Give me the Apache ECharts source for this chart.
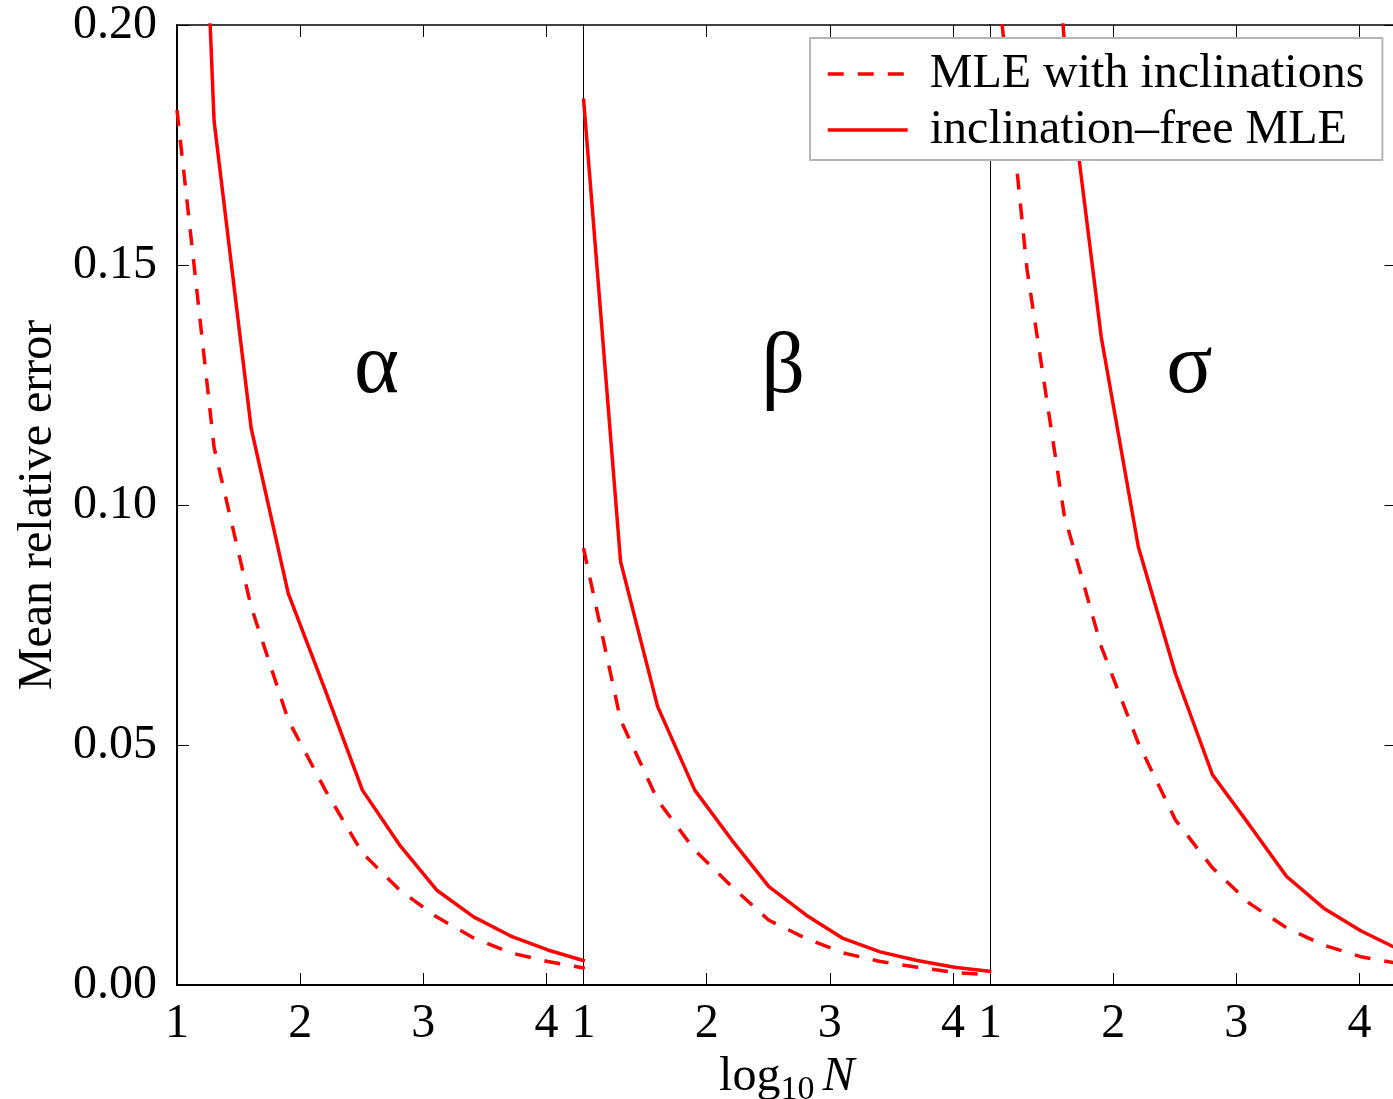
<!DOCTYPE html>
<html>
<head>
<meta charset="utf-8">
<script src="https://cdn.jsdelivr.net/npm/echarts@6/dist/echarts.min.js"></script>
<style>
  html, body { margin: 0; padding: 0; background: #fff; }
  #root { width: 1393px; height: 1099px; }
</style>
</head>
<body>
<div id="root"></div>
<script>
// log10 N for N = 10, 20, 40, ... 20480
const logN = [1, 1.301, 1.602, 1.903, 2.204, 2.505, 2.806, 3.107, 3.408, 3.709, 4.010, 4.311]

// mean relative error
const alphaIncl = [0.1823, 0.112, 0.0788, 0.0552, 0.0406, 0.0275, 0.0198, 0.0142, 0.0098, 0.0067, 0.0049, 0.0035]
const alphaFree = [0.37, 0.180, 0.116, 0.0816, 0.0614, 0.0406, 0.0292, 0.0198, 0.0142, 0.0102, 0.0073, 0.0050]
const betaIncl = [0.091, 0.0552, 0.0385, 0.0281, 0.0205, 0.0135, 0.0097, 0.0067, 0.0049, 0.0037, 0.0026, 0.0021]
const betaFree = [0.1847, 0.0882, 0.058, 0.0406, 0.0302, 0.0205, 0.0146, 0.0097, 0.0069, 0.0051, 0.0037, 0.0028]
const sigmaIncl = [0.225, 0.149, 0.098, 0.0705, 0.0504, 0.0344, 0.0244, 0.017, 0.0119, 0.0083, 0.0059, 0.0045]
const sigmaFree = [0.45, 0.30, 0.197, 0.135, 0.0913, 0.0649, 0.0438, 0.0333, 0.0226, 0.016, 0.0113, 0.0075]

const panelNames = ['α', 'β', 'σ']
const seriesNames = ['MLE with inclinations', 'inclination\u2013free MLE']
const greekPos = [2.62, 0.1283]

const FONT = "'Liberation Serif', 'Times New Roman', serif"
const RED = '#ff0000'

const panels = [
  { incl: alphaIncl, free: alphaFree },
  { incl: betaIncl, free: betaFree },
  { incl: sigmaIncl, free: sigmaFree }
]
const panelLeft = [177, 583.5, 990]
const panelWidth = 406.5

const chart = echarts.init(document.getElementById('root'), null, { renderer: 'canvas' })

const grid = panelLeft.map(l => ({
  left: l, top: 25, width: panelWidth, height: 960, show: false,
  containLabel: false, outerBoundsMode: 'none'
}))

const xAxis = []
panels.forEach((p, i) => {
  xAxis.push({
    type: 'value', gridIndex: i, position: 'bottom', min: 1, max: 4.3, interval: 1,
    axisLine: { show: true, onZero: false, lineStyle: { color: '#000', width: 2 } },
    axisTick: { inside: true, length: 12, lineStyle: { color: '#000', width: 1 } },
    axisLabel: { showMaxLabel: false, fontSize: 48, fontFamily: FONT, color: '#000', margin: 15 },
    splitLine: { show: false },
    name: i === 1 ? '{a|log}{b|10}{c|N}' : '',
    nameLocation: 'middle',
    nameGap: 60,
    nameTextStyle: {
      rich: {
        a: { fontSize: 48, fontFamily: FONT, color: '#000', lineHeight: 60, verticalAlign: 'middle' },
        b: { fontSize: 34, fontFamily: FONT, color: '#000', lineHeight: 34, verticalAlign: 'bottom' },
        c: { fontSize: 48, fontFamily: FONT, fontStyle: 'italic', color: '#000', lineHeight: 60, verticalAlign: 'middle', padding: [0, 0, 0, 8] }
      }
    }
  })
})
panels.forEach((p, i) => {
  xAxis.push({
    type: 'value', gridIndex: i, position: 'top', min: 1, max: 4.3, interval: 1,
    axisLine: { show: true, onZero: false, lineStyle: { color: '#000', width: 1.5 } },
    axisTick: { inside: true, length: 12, lineStyle: { color: '#000', width: 1 } },
    axisLabel: { show: false },
    splitLine: { show: false }
  })
})

const yAxis = []
panels.forEach((p, i) => {
  yAxis.push({
    type: 'value', gridIndex: i, position: 'left', min: 0, max: 0.2, interval: 0.05,
    axisLine: { show: true, onZero: false, lineStyle: { color: '#000', width: i === 0 ? 2 : 1 } },
    axisTick: { show: i === 0, inside: true, length: 12, lineStyle: { color: '#000', width: 1 } },
    axisLabel: {
      show: i === 0, fontSize: 48, fontFamily: FONT, color: '#000', margin: 20,
      formatter: v => v.toFixed(2)
    },
    splitLine: { show: false },
    name: i === 0 ? 'Mean relative error' : '',
    nameLocation: 'middle',
    nameGap: 115,
    nameTextStyle: { fontSize: 48, fontFamily: FONT, color: '#000' }
  })
})
yAxis.push({
  type: 'value', gridIndex: 2, position: 'right', min: 0, max: 0.2, interval: 0.05,
  axisLine: { show: true, onZero: false, lineStyle: { color: '#000', width: 1 } },
  axisTick: { inside: true, length: 12, lineStyle: { color: '#000', width: 1 } },
  axisLabel: { show: false },
  splitLine: { show: false }
})

const series = []
panels.forEach((p, i) => {
  series.push({
    name: seriesNames[0], type: 'line', xAxisIndex: i, yAxisIndex: i,
    data: logN.map((x, k) => [x, p.incl[k]]),
    symbol: 'none', silent: true,
    itemStyle: { color: RED },
    lineStyle: { color: RED, width: 3.5, type: [16, 14] }
  })
  series.push({
    name: seriesNames[1], type: 'line', xAxisIndex: i, yAxisIndex: i,
    data: logN.map((x, k) => [x, p.free[k]]),
    symbol: 'none', silent: true,
    itemStyle: { color: RED },
    lineStyle: { color: RED, width: 3.5 }
  })
})

const option = {
  animation: false,
  backgroundColor: '#fff',
  grid,
  xAxis,
  yAxis,
  legend: {
    data: seriesNames,
    orient: 'vertical',
    left: 810,
    top: 38,
    itemWidth: 80,
    itemHeight: 14,
    itemGap: 8,
    padding: [12, 18, 6, 16],
    borderColor: '#b5b5b5',
    borderWidth: 2,
    backgroundColor: '#fff',
    selectedMode: false,
    itemStyle: { opacity: 0 },
    lineStyle: { width: 3.5 },
    textStyle: { fontSize: 48, fontFamily: FONT, color: '#000', padding: [0, 0, 0, 17] }
  },
  series
}
chart.setOption(option)

// panel labels placed in data space of each panel
chart.setOption({
  graphic: panelNames.map((t, i) => {
    const pt = chart.convertToPixel({ xAxisIndex: i, yAxisIndex: i }, greekPos)
    return {
      type: 'text', x: pt[0], y: pt[1], z: 10,
      style: { text: t, fontSize: 86, fontFamily: FONT, fill: '#000', align: 'center', verticalAlign: 'middle' }
    }
  })
})
</script>
</body>
</html>
